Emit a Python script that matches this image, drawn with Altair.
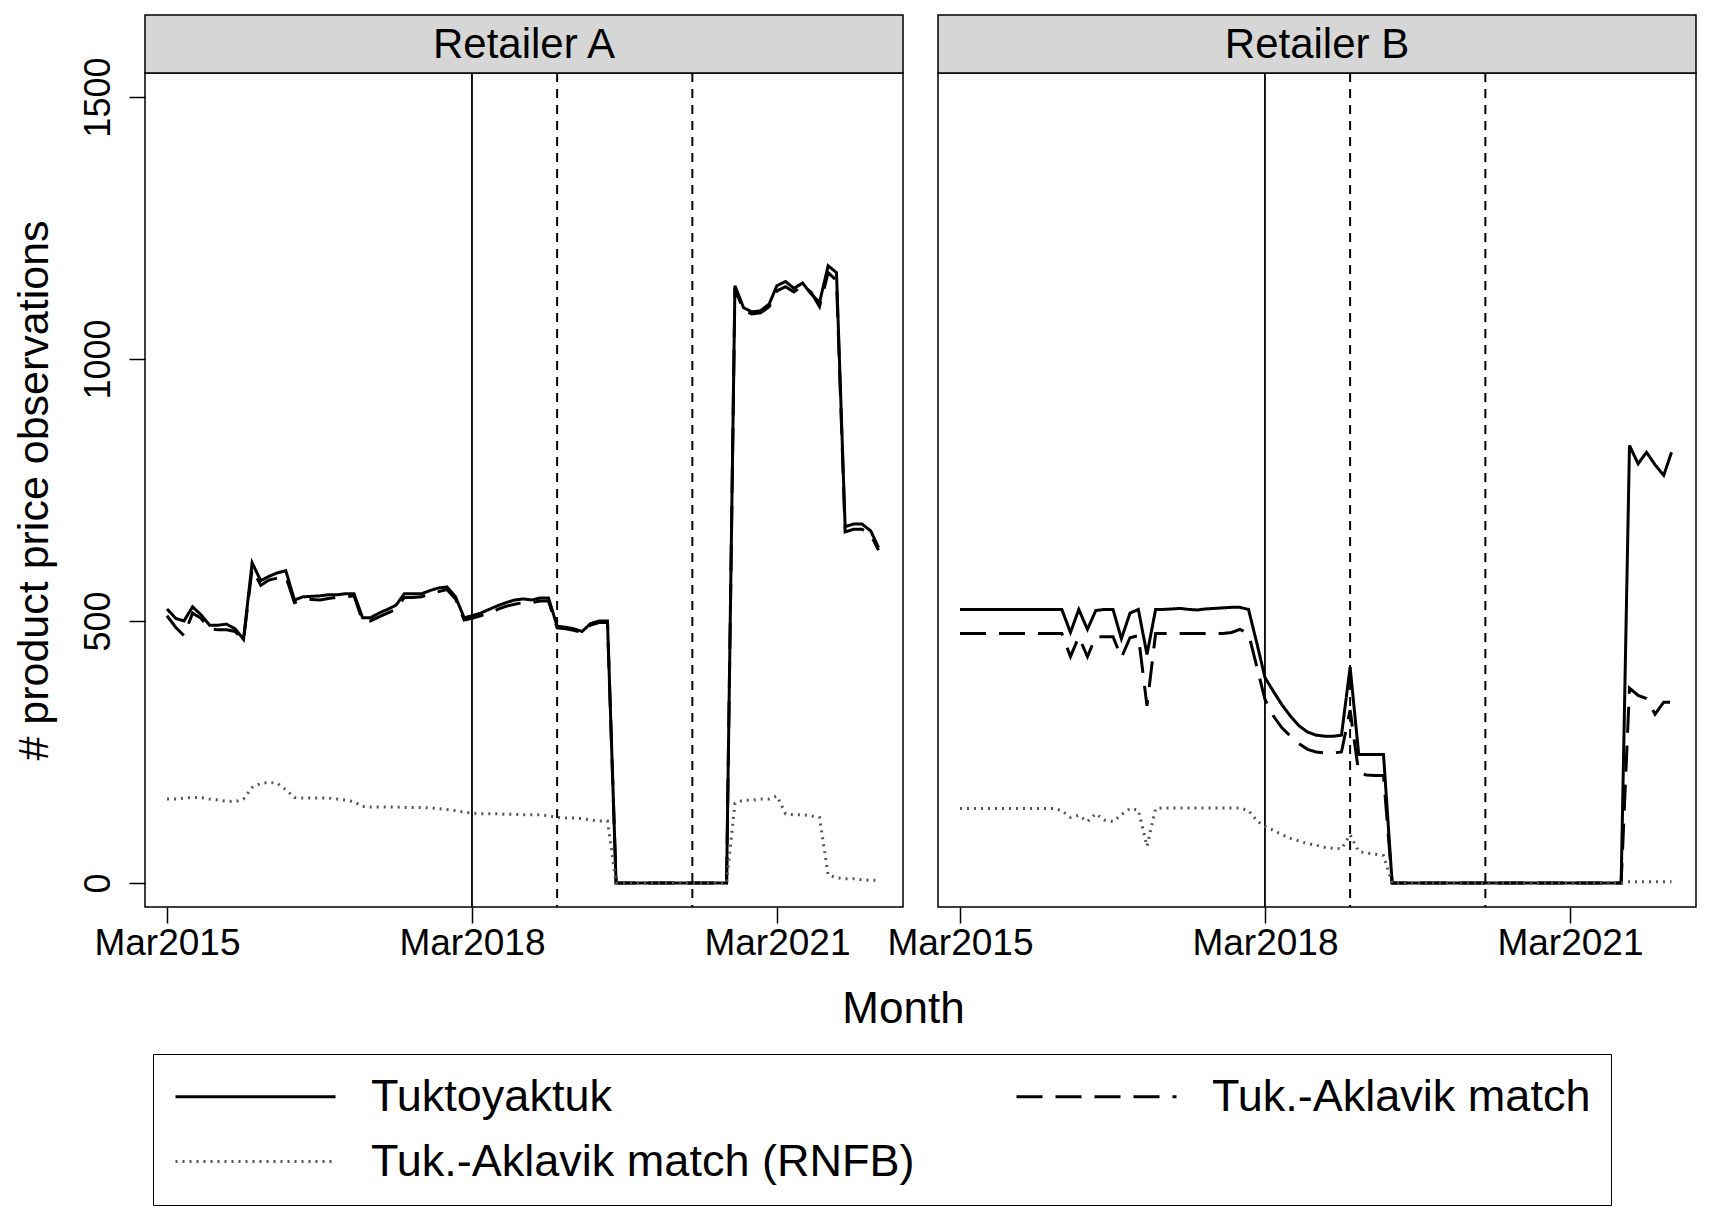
import altair as alt
import pandas as pd

# ---------------- data (monthly, Mar 2015 .. Mar 2022) ----------------
START_MONTH = "2015-03-01"
SERIES = ["Tuktoyaktuk", "Tuk.-Aklavik match", "Tuk.-Aklavik match (RNFB)"]
RETAILERS = ["Retailer A", "Retailer B"]

a_tuk = [523, 505, 500, 527, 512, 492, 492, 494, 485, 465,
         611, 577, 585, 592, 596, 540, 546, 547, 548, 550,
         550, 552, 552, 506, 506, 515, 522, 530, 552, 552,
         552, 558, 563, 565, 546, 506, 510, 515, 522, 529,
         535, 540, 542, 540, 544, 544, 490, 488, 485, 480,
         495, 500, 500, 0, 0, 0, 0, 0, 0, 0,
         0, 0, 0, 0, 0, 0, 0, 1140, 1098, 1090,
         1092, 1105, 1140, 1148, 1135, 1145, 1125, 1108, 1178, 1165,
         680, 685, 685, 672, 640]
a_match = [510, 488, 472, 515, 505, 485, 483, 483, 480, 463,
           600, 568, 578, 582, 585, 535, 540, 541, 540, 543,
           545, 546, 548, 500, 500, 508, 515, 522, 545, 545,
           546, 552, 556, 560, 542, 502, 505, 510, 515, 522,
           528, 532, 535, 535, 538, 538, 487, 485, 482, 478,
           492, 497, 497, 0, 0, 0, 0, 0, 0, 0,
           0, 0, 0, 0, 0, 0, 0, 1135, 1092, 1086,
           1088, 1100, 1130, 1138, 1128, 1140, 1128, 1100, 1165, 1150,
           670, 675, 675, 665, 635]
a_rnfb = [160, 160, 162, 163, 163, 160, 158, 156, 155, 160,
          182, 190, 192, 190, 178, 163, 162, 162, 162, 162,
          160, 158, 155, 146, 145, 145, 145, 145, 144, 144,
          144, 143, 142, 140, 138, 135, 133, 132, 132, 132,
          131, 131, 130, 130, 130, 128, 125, 124, 124, 123,
          120, 118, 118, 0, 0, 0, 0, 0, 0, 0,
          0, 0, 0, 0, 0, 0, 0, 152, 158, 158,
          160, 160, 166, 132, 130, 130, 128, 125, 15, 10,
          8, 8, 6, 5, 5]

b_tuk = [522, 522, 522, 522, 522, 522, 522, 522, 522, 522,
         522, 522, 522, 478, 522, 484, 520, 522, 522, 466,
         515, 522, 436, 522, 522, 523, 524, 522, 521, 523,
         524, 525, 526, 526, 522, 455, 392, 365, 340, 318,
         300, 288, 282, 280, 280, 282, 412, 245, 245, 245,
         245, 0, 0, 0, 0, 0, 0, 0, 0, 0,
         0, 0, 0, 0, 0, 0, 0, 0, 0, 0,
         0, 0, 0, 0, 0, 0, 0, 0, 0, 835,
         800, 822, 798, 778, 822]
b_match = [476, 476, 476, 476, 476, 476, 476, 476, 476, 476,
           476, 476, 476, 432, 470, 432, 470, 470, 470, 430,
           468, 472, 338, 476, 476, 476, 476, 476, 476, 476,
           476, 476, 478, 484, 476, 410, 350, 318, 296, 280,
           266, 255, 250, 248, 248, 250, 330, 210, 206, 205,
           205, 0, 0, 0, 0, 0, 0, 0, 0, 0,
           0, 0, 0, 0, 0, 0, 0, 0, 0, 0,
           0, 0, 0, 0, 0, 0, 0, 0, 0, 372,
           358, 352, 322, 345, 345]
b_rnfb = [142, 142, 142, 142, 142, 142, 142, 142, 142, 142,
          142, 142, 138, 125, 129, 117, 132, 120, 117, 130,
          142, 139, 70, 142, 143, 143, 143, 143, 143, 143,
          143, 143, 143, 143, 138, 118, 108, 100, 92, 85,
          80, 75, 72, 68, 66, 65, 92, 60, 57, 55,
          52, 0, 0, 0, 0, 0, 0, 0, 0, 0,
          0, 0, 0, 0, 0, 0, 0, 0, 0, 0,
          0, 0, 0, 0, 0, 0, 0, 0, 0, 2,
          2, 2, 2, 2, 2]

SOLID_EVENTS = ["2018-03-01"]
DASHED_EVENTS = ["2019-01-01", "2020-05-01"]
X_TICKS = [(2015, 3), (2018, 3), (2021, 3)]
Y_TICKS = [0, 500, 1000, 1500]

DATA = {
    "Retailer A": [a_tuk, a_match, a_rnfb],
    "Retailer B": [b_tuk, b_match, b_rnfb],
}

rows = []
for ret in RETAILERS:
    for name, vals in zip(SERIES, DATA[ret]):
        months = pd.date_range(START_MONTH, periods=len(vals), freq="MS")
        for m, v in zip(months, vals):
            rows.append({"retailer": ret, "series": name,
                         "date": m.strftime("%Y-%m-%d"), "value": v})
df = pd.DataFrame(rows)

# ---------------- styling ----------------
FONT = "Liberation Sans"
W, H = 758, 834
HDR = 58

# legend order (filled column by column): Tuktoyaktuk, RNFB | Tuk.-Aklavik match
LEG_ORDER = [SERIES[0], SERIES[2], SERIES[1]]
LEG_COLORS = ["#000000", "#555555", "#000000"]
LEG_DASHES = [[1, 0], [2, 5], [26, 13]]

x_scale = alt.Scale(type="utc",
                    domain=[alt.DateTime(year=2014, month=12, date=12, utc=True),
                            alt.DateTime(year=2022, month=5, date=28, utc=True)])
y_scale = alt.Scale(domain=[-46, 1546], nice=False, zero=False)

legend = alt.Legend(
    title=None, orient="none", legendX=8, legendY=981,
    columns=2, columnPadding=95, rowPadding=19, padding=20,
    strokeColor="black", fillColor="white", cornerRadius=0,
    labelFontSize=45, labelFont=FONT, labelColor="black", labelLimit=1200,
    symbolType="M0,0L16,0", symbolSize=400, symbolStrokeWidth=3,
    symbolOffset=-20, labelOffset=173,
)
color = alt.Color("series:N",
                  scale=alt.Scale(domain=LEG_ORDER, range=LEG_COLORS),
                  legend=legend)
dash = alt.StrokeDash("series:N",
                      scale=alt.Scale(domain=LEG_ORDER, range=LEG_DASHES),
                      legend=legend)


def panel(ret, first):
    if first:
        xaxis = alt.Axis(
            values=[alt.DateTime(year=y, month=m, date=1, utc=True) for y, m in X_TICKS],
            format="%b%Y", labelFontSize=37, tickSize=16, labelPadding=2,
            labelFlush=False, labelOverlap=False, labelBound=False,
            title="Month", titleFontSize=44, titlePadding=26,
            titleAnchor="end", titleAlign="center",
        )
        yaxis = alt.Axis(values=Y_TICKS, format="d", labelAngle=270, labelAlign="center",
                         labelBaseline="bottom", labelFontSize=36, tickSize=16,
                         labelPadding=12, title="# product price observations",
                         titleFontSize=43, titlePadding=24)
        y = alt.Y("value:Q", scale=y_scale, axis=yaxis)
    else:
        xaxis = alt.Axis(
            values=[alt.DateTime(year=y, month=m, date=1, utc=True) for y, m in X_TICKS],
            format="%b%Y", labelFontSize=37, tickSize=16, labelPadding=2,
            labelFlush=False, labelOverlap=False, labelBound=False, title=None,
        )
        y = alt.Y("value:Q", scale=y_scale, axis=None)
    x = alt.X("date:T", scale=x_scale, axis=xaxis)

    d = df[df.retailer == ret]
    lines = alt.Chart(d).mark_line(strokeWidth=3).encode(
        x=x, y=y, color=color, strokeDash=dash)

    solid_rules = alt.Chart(pd.DataFrame({"date": SOLID_EVENTS})).mark_rule(
        color="black", strokeWidth=1.8).encode(x=alt.X("date:T", scale=x_scale, axis=xaxis))
    dashed_rules = alt.Chart(pd.DataFrame({"date": DASHED_EVENTS})).mark_rule(
        color="black", strokeWidth=2, strokeDash=[9, 7]).encode(
        x=alt.X("date:T", scale=x_scale, axis=xaxis))

    hdr = pd.DataFrame({"retailer": [ret]})
    strip = alt.Chart(hdr).mark_rect(fill="#d6d6d6", stroke="black", strokeWidth=1.5).encode(
        x=alt.value(0), x2=alt.value(W), y=alt.value(-HDR), y2=alt.value(0))
    label = alt.Chart(hdr).mark_text(fontSize=42, font=FONT, color="black",
                                     align="center", baseline="middle").encode(
        x=alt.value(W / 2), y=alt.value(-HDR / 2 + 1), text="retailer:N")

    return alt.layer(strip, label, solid_rules, dashed_rules, lines).properties(
        width=W, height=H)


chart = alt.hconcat(panel("Retailer A", True), panel("Retailer B", False),
                    spacing=35, bounds="flush").properties(
    padding={"left": 4, "top": 5, "right": 4, "bottom": 0},
).configure(
    font=FONT, background="white",
).configure_view(
    stroke="black", strokeWidth=1.5,
).configure_axis(
    domain=False, grid=False, tickColor="black", tickWidth=1.5,
    labelColor="black", titleColor="black", labelFont=FONT, titleFont=FONT,
    titleFontWeight="normal",
)

chart.save("out.html", embed_options={"renderer": "svg", "actions": False})
